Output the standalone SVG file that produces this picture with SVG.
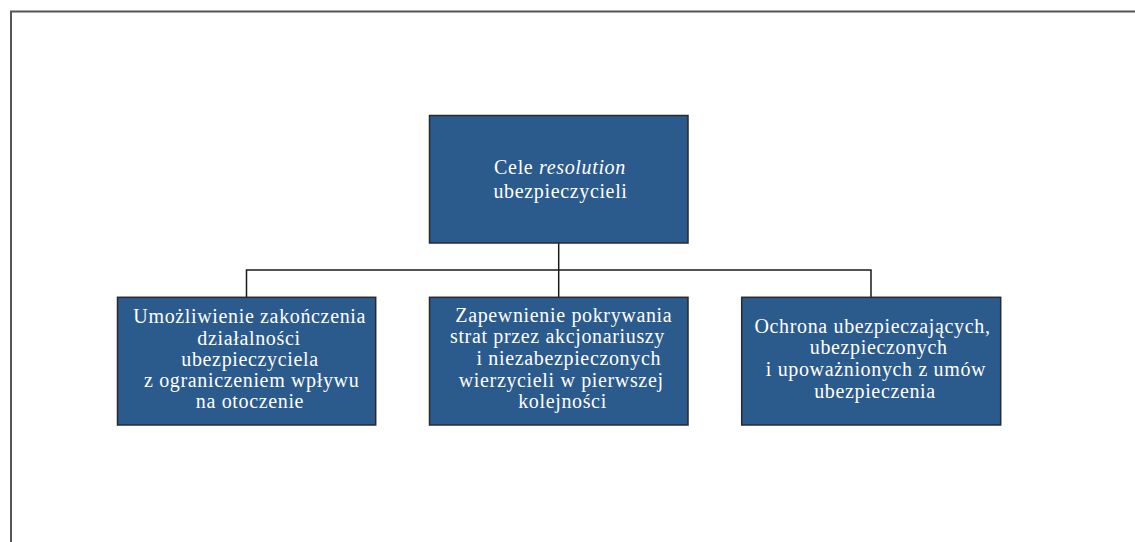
<svg xmlns="http://www.w3.org/2000/svg" width="1135" height="542" viewBox="0 0 1135 542">
  <style>
    .box { fill: #2b5a8d; stroke: #2a2a2a; stroke-width: 1.5; }
    .lbl { font-family: "Liberation Serif", "Times New Roman", serif; font-size: 20px; letter-spacing: 0.65px; fill: #ffffff; text-anchor: middle; }
    .conn { fill: none; stroke: #1a1a1a; stroke-width: 1.5; }
    .frame { fill: none; stroke: #555555; stroke-width: 2; }
  </style>
  <rect x="0" y="0" width="1135" height="542" fill="#ffffff"/>
  <path class="frame" d="M11,542 V11.5 H1135"/>

  <g id="connectors">
    <path class="conn" d="M558.7,243 V297"/>
    <path class="conn" d="M246.5,297 V270 H871 V297"/>
  </g>

  <g id="node-top">
    <rect class="box" x="429.5" y="115.5" width="258.5" height="127.5"/>
    <text class="lbl" x="560" y="174.3">Cele <tspan font-style="italic">resolution</tspan></text>
    <text class="lbl" x="560.5" y="197.7">ubezpieczycieli</text>
  </g>

  <g id="node-left">
    <rect class="box" x="117.5" y="297.3" width="258.2" height="127.7"/>
    <text class="lbl" x="249.7" y="323.3">Umożliwienie zakończenia</text>
    <text class="lbl" x="249" y="344.5">działalności</text>
    <text class="lbl" x="250" y="365.8">ubezpieczyciela</text>
    <text class="lbl" x="251.7" y="387">z ograniczeniem wpływu</text>
    <text class="lbl" x="250" y="408.3">na otoczenie</text>
  </g>

  <g id="node-middle">
    <rect class="box" x="429.5" y="297.3" width="258.5" height="127.7"/>
    <text class="lbl" x="563.8" y="321.7">Zapewnienie pokrywania</text>
    <text class="lbl" x="557.5" y="343.3">strat przez akcjonariuszy</text>
    <text class="lbl" x="568.8" y="365">i niezabezpieczonych</text>
    <text class="lbl" x="561.2" y="386.7">wierzycieli w pierwszej</text>
    <text class="lbl" x="562.5" y="408.3">kolejności</text>
  </g>

  <g id="node-right">
    <rect class="box" x="741.7" y="297.3" width="259" height="127.7"/>
    <text class="lbl" x="872.5" y="332.7">Ochrona ubezpieczających,</text>
    <text class="lbl" x="878.7" y="354.3">ubezpieczonych</text>
    <text class="lbl" x="876" y="376">i upoważnionych z umów</text>
    <text class="lbl" x="875" y="397.8">ubezpieczenia</text>
  </g>
</svg>
